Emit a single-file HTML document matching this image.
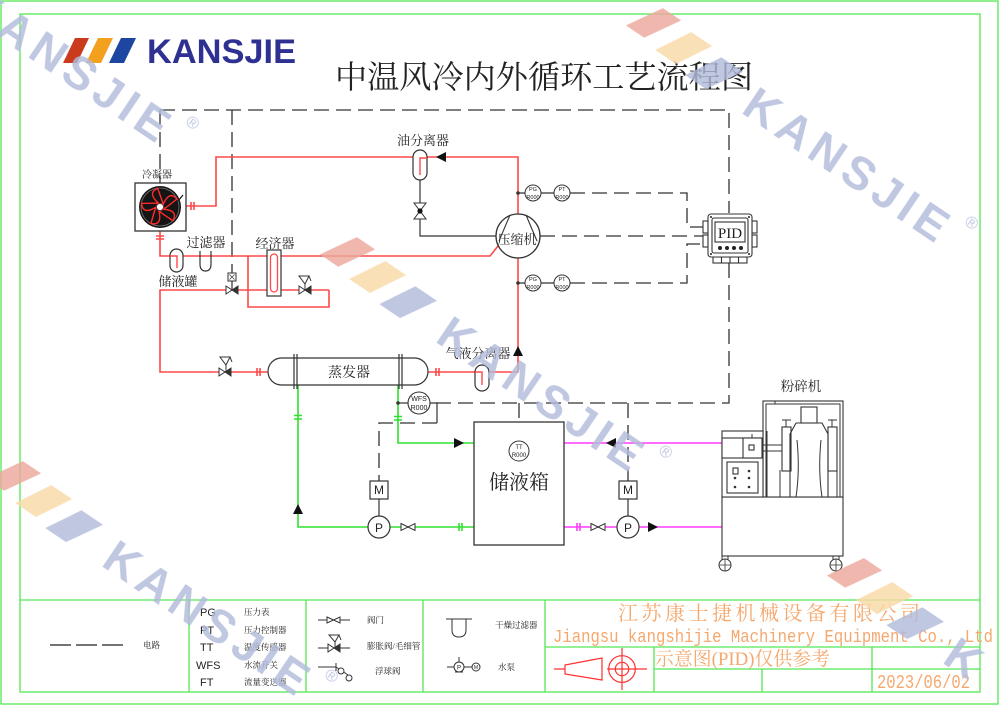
<!DOCTYPE html>
<html><head><meta charset="utf-8"><style>
html,body{margin:0;padding:0;background:#fff;width:1000px;height:706px;overflow:hidden;}
svg{display:block;overflow:hidden;}
.cn{font-family:"Liberation Serif","Noto Serif CJK SC",serif;fill:#222;}
.en{font-family:"Liberation Sans",sans-serif;fill:#222;}
.wm{font-family:"Liberation Sans",sans-serif;font-weight:bold;font-size:46px;letter-spacing:6px;fill:#b3bbdb;}
.wm0{font-family:"Liberation Sans",sans-serif;font-weight:bold;font-size:46px;fill:#b3bbdb;}
.or{fill:#f5a86e;}
</style></head><body>
<svg width="1000" height="706" viewBox="0 0 1000 706" xmlns="http://www.w3.org/2000/svg">
<rect width="1000" height="706" fill="#fff"/>

<!-- frames -->
<g fill="none" stroke="#55e855" stroke-width="1.3">
<rect x="1" y="1" width="997" height="703"/>
<rect x="20" y="14" width="960" height="678"/>
<path d="M20,600H980 M189,600V692 M306,600V692 M423,600V692 M545,600V692 M545,647H980 M654,669H980 M654,647V692 M762,669V692 M872,647V692"/>
</g>

<!-- logo -->
<polygon points="63,63 75,38 89,38 77,63" fill="#cc3a1e"/>
<polygon points="86,63 98,38 113,38 101,63" fill="#f2a01e"/>
<polygon points="109,63 121,38 136,38 124,63" fill="#1c46a2"/>
<text x="147" y="63" font-family="Liberation Sans" font-weight="bold" font-size="34" fill="#2e3192" textLength="149" lengthAdjust="spacingAndGlyphs">KANSJIE</text>

<!-- title -->
<text x="335" y="88" font-size="32" class="cn" textLength="418" lengthAdjust="spacingAndGlyphs">中温风冷内外循环工艺流程图</text>

<!-- dashed electrical -->
<g fill="none" stroke="#333" stroke-width="1.3" stroke-dasharray="15 7">
<path d="M160,110 H729 V213"/>
<path d="M160,110 V183"/>
<path d="M232,110 V273"/>
<path d="M729,263 V403 H430"/>
<path d="M570,193 H687 V227 H703"/>
<path d="M540,236 H703"/>
<path d="M570,283 H687 V244 H703"/>
<path d="M519,403 V441"/>
<path d="M628,403 V481"/>
<path d="M437,423 H379 V481"/>
</g>
<g fill="none" stroke="#333" stroke-width="1.2">
<path d="M430,403 H437 V423"/>
<path d="M379,499 V516 M628,499 V516"/>
<path d="M420,180 V236 H496"/>
<path d="M518,193 H525 M541,193 H554 M518,283 H525 M541,283 H554"/>
<path d="M398,403 H408"/>
<path d="M232,281 V290"/>
</g>

<!-- red refrigerant -->
<g fill="none" stroke="#ff4848" stroke-width="1.6">
<path d="M518,214 V157 H216 V206 H186"/>
<path d="M160,231 V256 H490 L498,246"/>
<path d="M329,290 H160 V372 H268"/>
<path d="M248,256 V307 H329 V290"/>
<path d="M428,372 H518 V258"/>
<path d="M191,202 V210 M194,202 V210 M156,236 H164 M156,239 H164 M257,368 V376 M260,368 V376 M436,368 V376 M439,368 V376"/>
</g>

<!-- green water -->
<g fill="none" stroke="#2ee02e" stroke-width="1.6">
<path d="M298,385 V527 H368"/>
<path d="M390,527 H474"/>
<path d="M398,385 V443 H474"/>
<path d="M294,415.5 H302 M294,419 H302 M394,416.5 H402 M394,420 H402 M459,523 V531 M462,523 V531"/>
</g>
<!-- magenta -->
<g fill="none" stroke="#ff3cff" stroke-width="1.6">
<path d="M564,443 H722"/>
<path d="M564,527 H617 M639,527 H722"/>
<path d="M577,523 V531 M580,523 V531"/>
</g>

<!-- arrows -->
<g fill="#111">
<polygon points="436,157 446,152 446,162"/>
<polygon points="518,346 513,356 523,356"/>
<polygon points="298,504 293,514 303,514"/>
<polygon points="464,443 454,438 454,448"/>
<polygon points="606,443 616,438 616,448"/>
<polygon points="658,527 648,522 648,532"/>
</g>

<!-- condenser -->
<text x="157" y="178" font-size="10" class="cn" text-anchor="middle">冷凝器</text>
<rect x="135" y="183" width="51" height="48" fill="#fff" stroke="#333" stroke-width="1.3"/>
<circle cx="160" cy="207" r="21" fill="#151515"/>
<circle cx="160" cy="207" r="19" fill="none" stroke="#777" stroke-width="0.8"/>
<g transform="translate(160,207)" fill="none" stroke="#ff2a2a" stroke-width="1.4">
<path d="M3,-2 Q9,-17 17,-8 Q12,-4 4,2 Z"/>
<path d="M3,-2 Q9,-17 17,-8 Q12,-4 4,2 Z" transform="rotate(72)"/>
<path d="M3,-2 Q9,-17 17,-8 Q12,-4 4,2 Z" transform="rotate(144)"/>
<path d="M3,-2 Q9,-17 17,-8 Q12,-4 4,2 Z" transform="rotate(216)"/>
<path d="M3,-2 Q9,-17 17,-8 Q12,-4 4,2 Z" transform="rotate(288)"/>
</g>
<circle cx="160" cy="207" r="3.5" fill="#fff" stroke="#333" stroke-width="0.8"/>
<path d="M178,201 L183,195" stroke="#111" stroke-width="1.2"/>

<!-- receiver / filter / economizer -->
<rect x="170" y="249" width="13" height="23" rx="6.5" fill="#fff" stroke="#333" stroke-width="1.2"/>
<path d="M170,256 H177 V268" fill="none" stroke="#ff4848" stroke-width="1.4"/>
<path d="M200,251 V264 Q200,271 205.5,271 Q211,271 211,264 V251" fill="none" stroke="#333" stroke-width="1.2"/>
<rect x="267" y="250" width="14" height="46" fill="#fff" stroke="#333" stroke-width="1.2"/>
<rect x="270.5" y="254" width="7" height="38" rx="3.5" fill="none" stroke="#ff4848" stroke-width="1.3"/>
<text x="206" y="247" font-size="13" class="cn" text-anchor="middle">过滤器</text>
<text x="275" y="248" font-size="13" class="cn" text-anchor="middle">经济器</text>
<text x="178" y="286" font-size="13" class="cn" text-anchor="middle">储液罐</text>

<!-- solenoid valve -->
<path d="M226,286 L232,290 L226,294 Z" fill="#fff" stroke="#333"/>
<path d="M238,286 L232,290 L238,294 Z" fill="#333" stroke="#333"/>
<rect x="228" y="273" width="8" height="8" fill="#fff" stroke="#333"/>
<path d="M229.5,274.5 L234.5,279.5 M234.5,274.5 L229.5,279.5" stroke="#333" stroke-width="0.7"/>
<!-- expansion valve (economizer) -->
<path d="M299,286 L305,290 L299,294 Z" fill="#fff" stroke="#333"/>
<path d="M311,286 L305,290 L311,294 Z" fill="#333" stroke="#333"/>
<path d="M299,276 H309 L305,284 Z M309,276 L311,281 M305,284 V290" fill="#fff" stroke="#333" stroke-width="1"/>
<!-- expansion valve (evap) -->
<path d="M219,368 L225,372 L219,376 Z" fill="#fff" stroke="#333"/>
<path d="M231,368 L225,372 L231,376 Z" fill="#333" stroke="#333"/>
<path d="M220,357 H230 L226,365 Z M230,357 L232,362 M226,365 V372" fill="#fff" stroke="#333" stroke-width="1"/>

<!-- oil separator -->
<text x="423" y="145" font-size="13" class="cn" text-anchor="middle">油分离器</text>
<rect x="413" y="150" width="14" height="30" rx="7" fill="#fff" stroke="#333" stroke-width="1.2"/>
<path d="M427,158 H420 V175" fill="none" stroke="#ff4848" stroke-width="1.4"/>
<path d="M414,203 H426 L420,211 Z M414,219 H426 L420,211 Z" fill="#fff" stroke="#333"/>
<circle cx="420" cy="211" r="2.6" fill="#111"/>

<!-- compressor -->
<circle cx="518" cy="236" r="22" fill="#fff" stroke="#333" stroke-width="1.3"/>
<path d="M510,215 L499,241 M526,215 L537,241" stroke="#333" stroke-width="1.1"/>
<text x="517" y="244" font-size="13" class="cn" text-anchor="middle">压缩机</text>

<!-- PG/PT -->
<g fill="#fff" stroke="#333" stroke-width="1">
<circle cx="533" cy="193" r="8"/><circle cx="562" cy="193" r="8"/>
<circle cx="533" cy="283" r="8"/><circle cx="562" cy="283" r="8"/>
</g>
<circle cx="518" cy="193" r="1.8" fill="#333"/><circle cx="518" cy="283" r="1.8" fill="#333"/>
<g class="en" font-size="5.5" text-anchor="middle">
<text x="533" y="191">PG</text><text x="533" y="199">R000</text>
<text x="562" y="191">PT</text><text x="562" y="199">R000</text>
<text x="533" y="281">PG</text><text x="533" y="289">R000</text>
<text x="562" y="281">PT</text><text x="562" y="289">R000</text>
</g>

<!-- PID -->
<g fill="#fff" stroke="#333" stroke-width="1.1">
<rect x="703" y="221" width="5" height="12"/><rect x="703" y="235" width="5" height="12"/>
<rect x="752" y="221" width="5" height="12"/><rect x="752" y="235" width="5" height="12"/>
<rect x="713" y="257" width="34" height="6"/>
<rect x="708" y="214" width="44" height="43" rx="3"/>
<rect x="712" y="218" width="36" height="35" rx="2"/>
<rect x="715" y="222" width="30" height="20"/>
<path d="M721.5,257 V263 M730,257 V263 M738.5,257 V263"/>
</g>
<g fill="#222"><circle cx="711" cy="217" r="1"/><circle cx="749" cy="217" r="1"/><circle cx="711" cy="254" r="1"/><circle cx="749" cy="254" r="1"/>
<circle cx="720" cy="248" r="2"/><circle cx="727" cy="248" r="2"/><circle cx="734" cy="248" r="2"/><circle cx="741" cy="248" r="2"/></g>
<text x="730" y="238" font-family="Liberation Serif" font-size="15" text-anchor="middle" fill="#222">PID</text>

<!-- evaporator -->
<rect x="268" y="358" width="160" height="27" rx="13.5" fill="#fff" stroke="#333" stroke-width="1.2"/>
<path d="M294,354 V389 M297,354 V389 M399,354 V389 M402,354 V389" stroke="#333" stroke-width="1.2"/>
<text x="349" y="377" font-size="14" class="cn" text-anchor="middle">蒸发器</text>

<!-- gas liquid separator -->
<text x="478" y="358" font-size="13" class="cn" text-anchor="middle">气液分离器</text>
<rect x="475" y="365" width="14" height="26" rx="7" fill="#fff" stroke="#333" stroke-width="1.2"/>
<path d="M475,372 H482 V385" fill="none" stroke="#ff4848" stroke-width="1.4"/>

<!-- WFS -->
<circle cx="398" cy="403" r="1.8" fill="#333"/>
<circle cx="419" cy="403" r="11" fill="#fff" stroke="#333" stroke-width="1.1"/>
<text x="419" y="401" class="en" font-size="7" text-anchor="middle">WFS</text>
<text x="419" y="410" class="en" font-size="7" text-anchor="middle">R000</text>

<!-- tank -->
<rect x="474" y="422" width="90" height="123" fill="#fff" stroke="#333" stroke-width="1.3"/>
<circle cx="519" cy="451" r="10" fill="#fff" stroke="#333" stroke-width="1"/>
<text x="519" y="449" class="en" font-size="6" text-anchor="middle">TT</text>
<text x="519" y="457" class="en" font-size="6" text-anchor="middle">R000</text>
<text x="519" y="489" font-size="20" class="cn" text-anchor="middle">储液箱</text>

<!-- motors & pumps -->
<g fill="#fff" stroke="#333" stroke-width="1.2">
<rect x="370" y="481" width="18" height="18"/><rect x="619" y="481" width="18" height="18"/>
<circle cx="379" cy="527" r="11"/><circle cx="628" cy="527" r="11"/>
</g>
<g class="en" font-size="12" text-anchor="middle">
<text x="379" y="494">M</text><text x="628" y="494">M</text>
<text x="379" y="532">P</text><text x="628" y="532">P</text>
</g>
<!-- water valves -->
<g fill="#fff" stroke="#333" stroke-width="1">
<path d="M401,523.5 L415,530.5 V523.5 L401,530.5 Z"/>
<path d="M591,523.5 L605,530.5 V523.5 L591,530.5 Z"/>
</g>

<!-- crusher -->
<text x="801" y="391" font-size="13.5" class="cn" text-anchor="middle">粉碎机</text>
<g fill="#fff" stroke="#333" stroke-width="1.1">
<rect x="722" y="497" width="121" height="59"/>
<rect x="763" y="401" width="80" height="96"/>
<rect x="722" y="431" width="41" height="66"/>
<rect x="722" y="438" width="40" height="20"/>
<rect x="743" y="438" width="19" height="20"/>
<rect x="749" y="445" width="5" height="5"/>
<rect x="727" y="462" width="31" height="31"/>
<rect x="733" y="468" width="5" height="6"/>
<rect x="782" y="427" width="9" height="44"/>
<rect x="828" y="427" width="9" height="44"/>
<rect x="801" y="407" width="16" height="16"/>
<path d="M796,423 H822 L828,434 V497 M796,423 L790,434 V497" fill="none"/>
</g>
<g fill="none" stroke="#333" stroke-width="1">
<path d="M766,497 V404 H840 V497 M767,431 V497 M780,470 V497 M837,470 V497 M786,420 V427 M782,420 H791 M832,420 V427 M828,420 H837"/>
<path d="M797,440 Q800,470 796,497 M821,440 Q818,470 822,497"/>
<path d="M762,445 H782 M762,451 H782"/>
<path d="M775,401 V404 M752,434 V438"/>
<path d="M722,556 V561 M728,556 V561 M833,556 V561 M839,556 V561"/>
</g>
<g fill="#333"><circle cx="735" cy="478" r="1.3"/><circle cx="749" cy="478" r="1.3"/><circle cx="735" cy="487" r="1.3"/><circle cx="749" cy="487" r="1.3"/><circle cx="749" cy="471" r="1.3"/></g>
<g fill="#fff" stroke="#333" stroke-width="1"><circle cx="725" cy="565" r="6"/><circle cx="836" cy="565" r="6"/></g>
<path d="M719,565 H731 M725,559 V571 M830,565 H842 M836,559 V571" stroke="#333" stroke-width="0.8"/>

<!-- legend -->
<path d="M50,645 H127" stroke="#222" stroke-width="1.2" stroke-dasharray="21 5"/>
<text x="143" y="648" font-size="8.5" class="cn">电路</text>
<g class="en" font-size="11">
<text x="200" y="616">PG</text><text x="200" y="634">PT</text><text x="200" y="651">TT</text><text x="196" y="669">WFS</text><text x="200" y="686">FT</text>
</g>
<g class="cn" font-size="8.5">
<text x="244" y="615">压力表</text><text x="244" y="633">压力控制器</text><text x="244" y="650">温度传感器</text><text x="244" y="668">水流开关</text><text x="244" y="685">流量变送器</text>
<text x="367" y="623">阀门</text><text x="367" y="649">膨胀阀/毛细管</text><text x="375" y="674">浮球阀</text>
<text x="495" y="628">干燥过滤器</text><text x="498" y="670">水泵</text>
</g>
<g fill="none" stroke="#333" stroke-width="1">
<path d="M318,620 H327 M340,620 H350"/>
<path d="M327,617 L340,623 V617 L327,623 Z" fill="#fff"/>
<path d="M318,648 H350"/>
<path d="M328,644 L334,648 L328,652 Z" fill="#fff"/>
<path d="M340,644 L334,648 L340,652 Z" fill="#333"/>
<path d="M329,635 H339 L335,642 Z M339,635 L341,640 M335,642 V648" fill="#fff"/>
<path d="M318,667 H336 M336,663 V671 M336,667 L348,675"/>
<circle cx="341" cy="671" r="3" fill="#fff"/>
<circle cx="349" cy="678" r="3" fill="#fff"/>
<path d="M446,619 H472 M452,619 V630 Q452,637 459,637 Q466,637 466,630 V619"/>
<path d="M447,667 H454 M464,667 H472 M459,657 V662"/>
<circle cx="459" cy="667" r="5" fill="#fff"/>
<circle cx="476" cy="667" r="4" fill="#fff"/>
<path d="M455,672 H463"/>
</g>
<text x="459" y="669.5" class="en" font-size="6" text-anchor="middle">P</text>
<text x="476" y="669" class="en" font-size="5" text-anchor="middle">M</text>

<!-- title block -->
<text x="769" y="620" font-size="20" class="cn or" text-anchor="middle" textLength="302" lengthAdjust="spacing" style="fill:#f5a86e">江苏康士捷机械设备有限公司</text>
<text x="553" y="642" font-family="Liberation Mono" font-size="18" fill="#f5a86e" textLength="440" lengthAdjust="spacingAndGlyphs">Jiangsu kangshijie Machinery Equipment Co., Ltd</text>
<text x="655" y="665" font-size="19" class="cn" style="fill:#f5a86e" textLength="175" lengthAdjust="spacingAndGlyphs">示意图(PID)仅供参考</text>
<text x="877" y="688" font-family="Liberation Mono" font-size="19" fill="#f5a86e" textLength="93" lengthAdjust="spacingAndGlyphs">2023/06/02</text>
<g fill="none" stroke="#ff3030" stroke-width="1.2">
<path d="M554,669 H565 M565,665 V674 L602,680 V658 Z"/>
<circle cx="622" cy="669" r="13.3"/>
<circle cx="622" cy="669" r="6.7"/>
<path d="M607,669 H647 M622,648 V690"/>
</g>

<!-- watermarks -->
<g opacity="0.82">
<g transform="translate(740,112) rotate(34)">
<polygon points="-143,-8 -122,-43 -100,-43 -121,-8" fill="#eca89c"/>
<polygon points="-105,-4 -85,-39 -60,-39 -80,-4" fill="#f8d9a6"/>
<polygon points="-66,0 -46,-35 -20,-35 -41,0" fill="#b3bbdb"/>
<text x="0" y="0" class="wm">KANSJIE</text>
<text x="254" y="-32" font-family="Liberation Sans" font-size="17" fill="#b3bbdb" text-anchor="middle">®</text>
</g>
<g transform="translate(434,341) rotate(34)">
<polygon points="-143,-8 -122,-43 -100,-43 -121,-8" fill="#eca89c"/>
<polygon points="-105,-4 -85,-39 -60,-39 -80,-4" fill="#f8d9a6"/>
<polygon points="-66,0 -46,-35 -20,-35 -41,0" fill="#b3bbdb"/>
<text x="0" y="0" class="wm">KANSJIE</text>
<text x="254" y="-32" font-family="Liberation Sans" font-size="17" fill="#b3bbdb" text-anchor="middle">®</text>
</g>
<g transform="translate(100,565) rotate(34)">
<polygon points="-143,-8 -122,-43 -100,-43 -121,-8" fill="#eca89c"/>
<polygon points="-105,-4 -85,-39 -60,-39 -80,-4" fill="#f8d9a6"/>
<polygon points="-66,0 -46,-35 -20,-35 -41,0" fill="#b3bbdb"/>
<text x="0" y="0" class="wm">KANSJI</text>
<text x="205" y="0" class="wm0">E</text>
<text x="254" y="-32" font-family="Liberation Sans" font-size="17" fill="#b3bbdb" text-anchor="middle">®</text>
</g>
<g transform="translate(-39,12) rotate(34)">
<text x="0" y="0" class="wm">KANSJIE</text>
<text x="254" y="-32" font-family="Liberation Sans" font-size="17" fill="#b3bbdb" text-anchor="middle">®</text>
</g>
<g transform="translate(941,662) rotate(34)">
<polygon points="-143,-8 -122,-43 -100,-43 -121,-8" fill="#eca89c"/>
<polygon points="-105,-4 -85,-39 -60,-39 -80,-4" fill="#f8d9a6"/>
<polygon points="-66,0 -46,-35 -20,-35 -41,0" fill="#b3bbdb"/>
<text x="0" y="0" class="wm0">K</text>
</g>
</g>
</svg>
</body></html>
